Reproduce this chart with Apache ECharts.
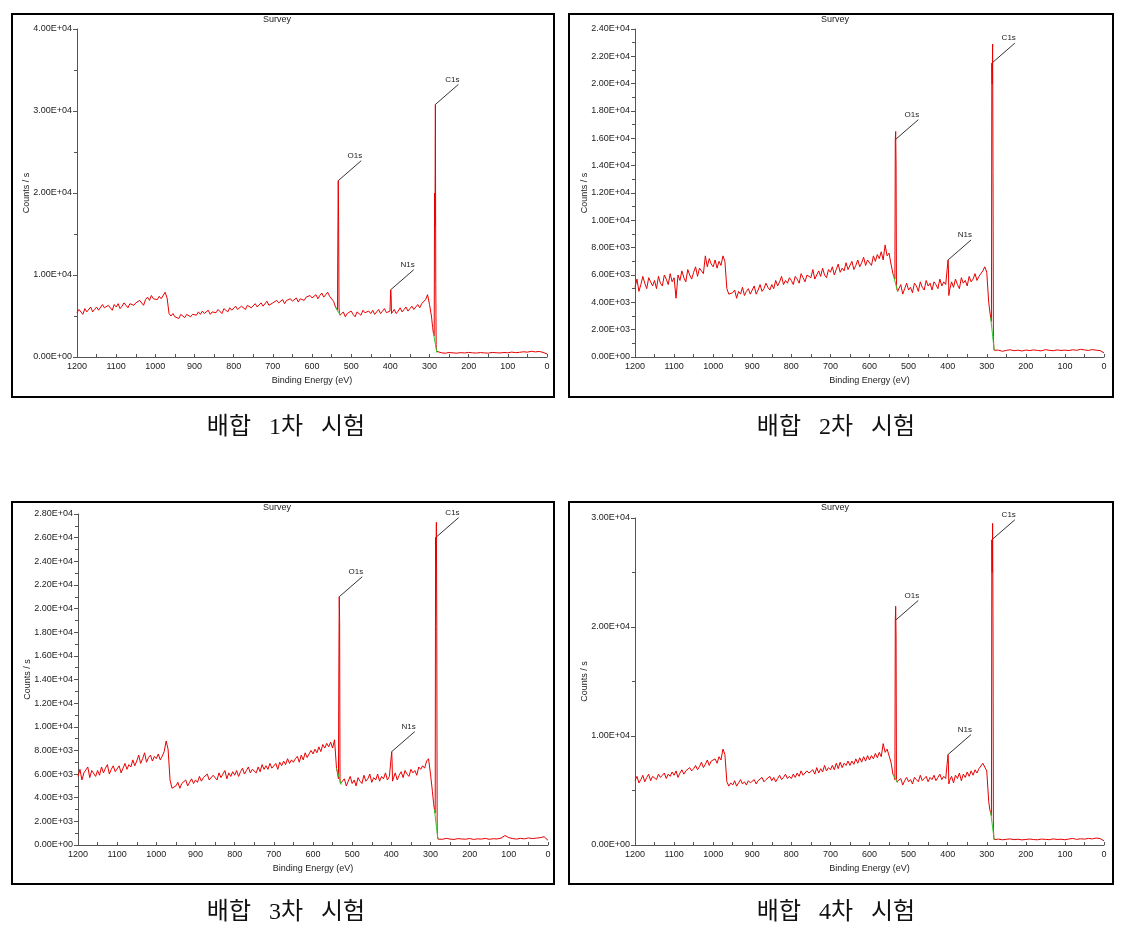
<!DOCTYPE html>
<html><head><meta charset="utf-8">
<script src="https://cdn.jsdelivr.net/npm/echarts@6/dist/echarts.min.js"></script>
<style>html,body{margin:0;padding:0;background:#fff}#c{width:1123px;height:938px}</style>
</head><body><div id="c"></div>
<script>
// Binding energy grid (eV), shared by the four surveys
const energy = [
1200,1195,1190,1185,1180,1175,1170,1165,1160,1155,
1150,1145,1140,1135,1130,1125,1120,1115,1110,1105,
1100,1095,1090,1085,1080,1075,1070,1065,1060,1055,
1050,1045,1040,1035,1030,1025,1020,1015,1010,1005,
1000,995,990,985,980,975,970,965,960,955,
950,945,940,935,930,925,920,915,910,905,
900,895,890,885,880,875,870,865,860,855,
850,845,840,835,830,825,820,815,810,805,
800,795,790,785,780,775,770,765,760,755,
750,745,740,735,730,725,720,715,710,705,
700,695,690,685,680,675,670,665,660,655,
650,645,640,635,630,625,620,615,610,605,
600,595,590,585,580,575,570,565,560,555,
550,545,540,
537,535,534,533,532,531,530,528,
525,520,515,510,505,500,495,490,485,480,475,470,465,460,455,450,445,440,435,430,425,420,415,410,405,
401,399,398,397,
395,390,385,380,375,370,365,360,355,350,345,340,335,330,325,320,315,310,305,300,295,
292,290,288,287,286,285,284,283,282,281,
280,270,260,250,240,230,220,210,200,190,180,170,160,150,140,130,120,110,100,90,80,70,60,50,40,30,20,10,0
];

// Counts / s, test 1
const counts1 = [
5400,5800,5600,5200,5900,5500,5700,6100,5500,5800,
6100,5700,5900,6400,6000,5800,6300,6200,5700,6400,
6100,6500,5900,6200,6600,6400,6000,6500,6700,6300,
6600,6400,6900,6700,6300,7000,7300,6900,7500,7100,
7300,7000,7400,7100,6900,7900,7200,5300,5000,5300,
4900,5100,4700,5200,5000,4800,5200,5300,4900,5200,
5300,5100,5500,5200,5600,5300,5400,5700,5200,5500,
5600,5400,5800,5700,5300,5900,5800,5500,6000,5700,
5900,6200,5800,5700,6200,6000,5800,6300,6100,6000,
6200,6500,6100,6300,6600,6200,6400,6800,6300,6500,
6600,6400,6900,6600,6800,7000,6500,6900,6700,7100,
6800,7000,7200,6700,7100,7300,6900,7300,7100,7500,
7200,7400,7600,7100,7500,7800,7300,7600,7900,7400,
7600,6800,6100,
5900,5700,14500,21500,16500,6000,5400,5100,
5200,5500,4900,5300,5100,5600,5200,4900,5500,5300,5100,5700,5400,5200,5600,5300,5700,5200,5500,5800,5300,5600,5900,5400,5600,
5600,8200,7500,5300,
5400,5800,5300,5600,6000,5500,5800,6100,5600,5900,6200,5800,6100,6400,6000,6500,6300,7000,7600,6400,5000,
3600,2900,2600,20000,16000,30800,9000,1500,700,520,
480,520,460,550,500,470,530,490,560,510,480,540,500,470,560,520,490,550,510,600,530,570,640,590,700,620,680,560,380
];

// Counts / s, test 2
const counts2 = [
5100,5700,4800,5300,5900,5400,5000,5800,5500,5200,
5600,5000,5900,5400,5200,6000,5700,5300,6100,5500,
5800,4300,6000,5600,6300,5800,5500,6400,6000,5700,
6200,6600,5900,6500,6300,6100,7400,6600,7200,6800,
6600,7100,6500,7000,6700,7400,7000,5000,4600,4500,
4700,4900,4300,4800,4600,5100,4500,4800,5000,4600,
4900,5200,4600,4900,5300,4800,5000,5400,5100,4900,
5300,5000,5600,5200,5500,5900,5300,5600,5400,5800,
5600,5300,5900,5700,5400,6100,5800,5500,6000,5900,
5800,6400,5700,6000,6300,5900,6500,6000,5800,6400,
6200,6600,6000,6400,6800,6200,6500,6300,6900,6400,
6500,7000,6400,6700,7100,6600,6900,7300,6700,7100,
7000,6700,7400,7000,7500,7200,7700,7100,8200,7400,
7600,6800,6100,
6000,5700,15900,16500,14000,5200,5000,4800,
4800,5300,4600,5000,5400,4900,5100,4700,5400,5200,4800,5500,5100,4900,5600,5200,5400,4900,5500,5300,5000,5700,5200,5500,5300,
5300,7100,6500,4500,
4900,5500,5100,5700,5300,5000,5800,5400,5600,5200,5900,5500,5700,6100,5600,5900,5800,6300,6600,6200,4000,
3300,2900,2600,21500,20000,22900,13500,1500,700,500,
450,500,420,480,530,460,500,440,510,470,520,480,450,540,490,460,520,480,500,470,530,490,560,520,480,540,500,470,300
];

// Counts / s, test 3
const counts3 = [
5800,6400,5500,6100,6000,6600,5700,6300,6200,5800,
6300,5900,6600,6100,6500,6800,6000,6400,6700,6200,
6300,6700,6100,6500,6900,6400,6800,6600,7200,6700,
7100,7600,6900,7300,7800,7000,7400,7600,7100,7500,
7300,7700,7200,7500,7900,8800,8100,5500,4800,4700,
5000,5300,4800,5200,5100,5500,5000,5300,5600,5200,
5500,5300,5800,5400,5700,5600,6000,5500,5400,5900,
5800,5500,6100,5700,6000,6300,5600,6100,5800,6200,
5900,6300,5800,6200,6500,6000,6300,6600,6100,6400,
6300,6100,6600,6200,6800,6400,6700,6400,6900,6500,
6500,6900,6400,7000,6700,7100,6800,7300,6900,7200,
7000,7300,7500,7000,7600,7200,7800,7400,7700,8000,
7700,8100,7800,8300,7900,8500,8200,8600,8300,8700,
8200,8900,6500,
6000,5600,15000,21000,19000,5500,5200,5100,
5100,5600,5000,5400,5800,5200,5500,5000,5700,5400,5200,5900,5400,5600,6000,5300,5700,5500,6000,5400,5800,5600,6100,5500,5800,
5800,7900,7000,5400,
5600,6100,5500,5900,6200,5700,6300,6000,5800,6400,6100,6300,5900,6600,6400,6700,6500,7100,7300,6000,4500,
3500,3000,2700,26000,24000,27300,18500,1500,700,500,
520,480,560,500,470,540,510,490,550,470,520,500,560,480,530,510,580,800,620,540,500,560,520,600,540,580,620,700,400
];

// Counts / s, test 4
const counts4 = [
5900,6300,5700,6000,6400,5800,6200,6500,5900,6300,
6200,6000,6500,6200,6400,6600,6100,6500,6300,6700,
6400,6800,6200,6600,6900,6500,6800,6700,7100,6800,
7000,7300,6900,7200,7600,7100,7400,7800,7300,7700,
7600,7900,7500,8100,7800,8800,8300,5800,5400,5700,
5500,5900,5400,5700,6000,5600,5800,5500,5900,5700,
5700,6000,5600,5900,5800,6200,5800,6000,5900,6300,
5900,6200,5800,6100,6400,6000,6200,6500,6100,6300,
6100,6500,6200,6600,6300,6800,6400,6300,6800,6600,
6500,6900,6500,7100,6600,7000,6700,7300,6800,7100,
6900,7300,6900,7500,7000,7600,7100,7500,7300,7700,
7300,7700,7400,7900,7500,8000,7600,8100,7700,8200,
7800,8200,7900,8400,8000,8500,8100,9300,8500,8800,
8700,7600,6500,
6300,6000,20600,21900,19000,6000,5800,5700,
5700,6100,5500,5900,6200,5800,6000,5600,6200,6000,5800,6400,5900,6100,6300,5800,6200,6000,6400,5900,6200,6500,6000,6300,6100,
6200,8300,7400,5600,
5900,6300,5700,6400,6100,6600,5900,6500,6200,6700,6300,6800,6400,6900,6600,7000,7000,7500,7500,6800,4000,
3200,3000,2700,28000,25000,29500,20000,1600,700,500,
500,540,480,520,560,490,530,470,510,550,500,480,540,520,490,560,510,530,480,550,600,520,570,540,600,560,640,590,380
];

// green background segments under O1s and C1s
const greenO1s = [[[540,6100],[528,5100]], [[540,6100],[528,4800]], [[540,6500],[528,5100]], [[540,6500],[528,5700]]];
const greenC1s = [[[290,2900],[281,520]], [[290,2900],[281,500]], [[290,3000],[281,500]], [[290,3000],[281,500]]];

// peak annotations: label and the energy (eV) of the point the leader line starts from, per test
const peakNames = ['O1s', 'N1s', 'C1s'];
const labelAnchorE = [[533, 399, 285], [534, 399, 287], [533, 399, 287], [534, 399, 287]];

const yMax = [40000, 24000, 28000, 30000];
const yInterval = [10000, 2000, 2000, 10000];
const captions = ['배합   1차   시험', '배합   2차   시험', '배합   3차   시험', '배합   4차   시험'];
const allCounts = [counts1, counts2, counts3, counts4];

const grids = [
  {left: 77, top: 29, width: 470, height: 328},
  {left: 635, top: 29, width: 469, height: 328},
  {left: 78, top: 514, width: 470, height: 331},
  {left: 635, top: 518, width: 469, height: 327}
];
const frames = [
  {x: 12, y: 14, width: 542, height: 383},
  {x: 569, y: 14, width: 544, height: 383},
  {x: 12, y: 502, width: 542, height: 382},
  {x: 569, y: 502, width: 544, height: 382}
];
const captionPos = [[286, 428], [836, 428], [286, 913], [836, 913]];

function sci(v) {
  if (v === 0) return '0.00E+00';
  const e = Math.floor(Math.log10(v) + 1e-9);
  const m = v / Math.pow(10, e);
  return m.toFixed(2) + 'E+' + (e < 10 ? '0' + e : e);
}

const axisCol = '#555';
const txtCol = '#222';
const small = 'Liberation Sans, Arial, sans-serif';

const xAxes = [], yAxes = [], series = [];
for (let k = 0; k < 4; k++) {
  xAxes.push({
    type: 'value', gridIndex: k, min: 0, max: 1200, interval: 100, inverse: true,
    name: 'Binding Energy (eV)', nameLocation: 'middle', nameGap: 19,
    nameTextStyle: {fontFamily: small, fontSize: 9, color: txtCol},
    axisLine: {onZero: false, lineStyle: {color: axisCol, width: 1}},
    axisTick: {inside: true, length: 3, lineStyle: {color: axisCol}},
    minorTick: {show: true, splitNumber: 2, length: 3, lineStyle: {color: axisCol}},
    splitLine: {show: false},
    axisLabel: {fontFamily: small, fontSize: 9, color: txtCol, margin: 5, formatter: v => String(v)}
  });
  yAxes.push({
    type: 'value', gridIndex: k, position: 'left', min: 0, max: yMax[k], interval: yInterval[k],
    name: 'Counts / s', nameLocation: 'middle', nameGap: 46, nameMoveOverlap: false,
    nameTextStyle: {fontFamily: small, fontSize: 9, color: txtCol},
    axisLine: {show: true, onZero: false, lineStyle: {color: axisCol, width: 1}},
    axisTick: {show: true, length: 4, lineStyle: {color: axisCol}},
    minorTick: {show: true, splitNumber: 2, length: 3, lineStyle: {color: axisCol}},
    splitLine: {show: false},
    axisLabel: {fontFamily: small, fontSize: 9, color: txtCol, margin: 5, formatter: sci}
  });
  series.push({
    type: 'line', xAxisIndex: k, yAxisIndex: k, showSymbol: false, symbol: 'none',
    data: energy.map((e, i) => [e, allCounts[k][i]]),
    lineStyle: {color: '#e80000', width: 1}, z: 2, animation: false
  });
  series.push({
    type: 'line', xAxisIndex: k, yAxisIndex: k, symbol: 'none', data: greenO1s[k],
    lineStyle: {color: '#2ecc2e', width: 1}, z: 3, animation: false
  });
  series.push({
    type: 'line', xAxisIndex: k, yAxisIndex: k, symbol: 'none', data: greenC1s[k],
    lineStyle: {color: '#2ecc2e', width: 1}, z: 3, animation: false
  });
}

const chart = echarts.init(document.getElementById('c'), null, {renderer: 'canvas'});
chart.setOption({
  animation: false,
  backgroundColor: '#fff',
  grid: grids,
  xAxis: xAxes,
  yAxis: yAxes,
  series: series
});

const gfx = [];
for (let k = 0; k < 4; k++) {
  const f = frames[k];
  gfx.push({type: 'rect', shape: f, style: {fill: null, stroke: '#000', lineWidth: 2}, silent: true});
  gfx.push({type: 'text', x: f.x + f.width / 2 - 6, y: f.y + 1,
    style: {text: 'Survey', fontFamily: small, fontSize: 9, fill: txtCol, textAlign: 'center', textVerticalAlign: 'top'}});
  gfx.push({type: 'text', x: captionPos[k][0], y: captionPos[k][1],
    style: {text: captions[k], fontFamily: "'Liberation Serif', 'Noto Sans CJK KR', serif", fontSize: 24, fill: '#111', textAlign: 'center', textVerticalAlign: 'middle'}});
  for (let p = 0; p < peakNames.length; p++) {
    const i = energy.indexOf(labelAnchorE[k][p]);
    const pt = chart.convertToPixel({gridIndex: k}, [energy[i], allCounts[k][i]]);
    const ex = pt[0] + 23, ey = pt[1] - 20;
    gfx.push({type: 'line', shape: {x1: pt[0], y1: pt[1], x2: ex, y2: ey}, style: {stroke: '#333', lineWidth: 1}, silent: true});
    gfx.push({type: 'text', x: ex + 1, y: ey - 1,
      style: {text: peakNames[p], fontFamily: small, fontSize: 8, fill: txtCol, textAlign: 'right', textVerticalAlign: 'bottom'}});
  }
}
chart.setOption({graphic: gfx});
</script>
</body></html>
